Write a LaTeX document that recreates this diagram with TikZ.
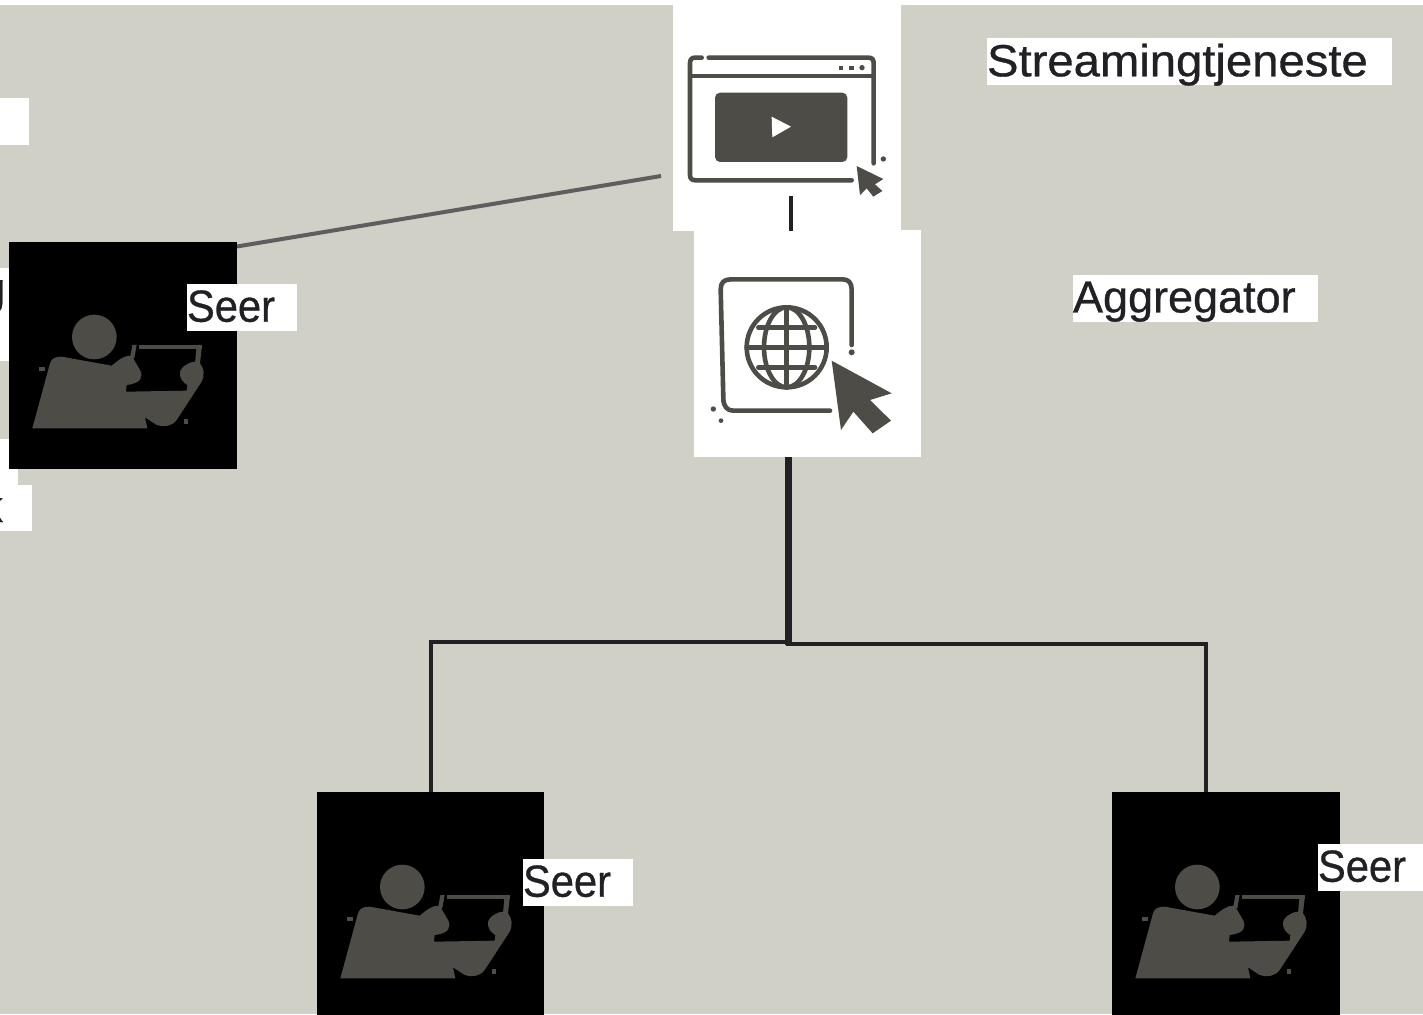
\documentclass[tikz,border=0pt]{standalone}
\usepackage{fontspec}
\setmainfont{Liberation Sans}
\newfontfamily\labelfont[FakeBold=0.7]{Liberation Sans}
\definecolor{bgc}{HTML}{D0D0C7}
\definecolor{ink}{HTML}{202025}
\definecolor{icon}{HTML}{4D4C47}
\definecolor{link}{HTML}{5E5E5E}
\newcommand{\nodesc}[1]{\raisebox{1.5pt}[\height][0pt]{#1}}
\tikzset{
  whitepanel/.style={fill=white,draw=none,inner sep=0pt,outer sep=0pt,anchor=north west,minimum width=#1,minimum height=227pt},
  blackbox/.style={fill=black,draw=none,inner sep=0pt,outer sep=0pt,anchor=north west,minimum width=228pt,minimum height=227pt},
  labelbox/.style={fill=white,draw=none,inner sep=0pt,outer sep=0pt,anchor=north west,text=ink,font=\labelfont\fontsize{45pt}{50pt}\selectfont,text width=#1,minimum height=47pt,align=left},
  patch/.style={fill=white,draw=none},
  fragment/.style={inner sep=0pt,anchor=base east,text=ink,font=\labelfont\fontsize{45pt}{50pt}\selectfont},
  wire/.style={draw=ink,line width=4pt},
  trunk/.style={draw=ink,line width=7pt},
  paleline/.style={draw=link,line width=4pt},
  iconline/.style={draw=icon,line width=4.6pt,line join=round,line cap=round},
  iconfill/.style={fill=icon,draw=none},
  pics/viewer/.style={code={
    \begin{scope}[shift={(-9,-162)},x=0.33333pt,y=-0.33333pt]
      \fill[iconfill] (283,771) circle (67);
      \fill[iconfill] (97,1045) -- (150,850) .. controls (155,835) and (165,830) .. (185,830) -- (335,857)
        .. controls (355,840) and (375,825) .. (395,827) -- (420,870) .. controls (430,890) and (425,910) .. (380,915)
        -- (378,935) -- (560,932) -- (562,915) .. controls (535,900) and (535,870) .. (550,860)
        .. controls (570,845) and (590,840) .. (600,850) .. controls (612,865) and (615,885) .. (605,905)
        -- (530,1020) .. controls (515,1040) and (490,1042) .. (470,1035) -- (435,1012) -- (442,1045) -- cycle;
      \fill[iconfill] (418,795) rectangle (606,806);
      \fill[iconfill] (397,795) -- (410,795) -- (403,835) -- (390,835) -- cycle;
      \fill[iconfill] (590,795) -- (606,795) -- (600,850) -- (585,850) -- cycle;
      \fill[iconfill] (116,862) rectangle (134,874);
      \fill[iconfill] (552,1018) rectangle (565,1031);
    \end{scope}
  }}
}
\begin{document}
\begin{tikzpicture}[x=1pt,y=-1pt]
\useasboundingbox (0,0) rectangle (1423,1014);
\clip (0,0) rectangle (1423,1014);
\fill[white] (0,0) rectangle (1423,1014);
\fill[bgc] (0,5) rectangle (1423,1014);

% remnants at the left edge
\fill[patch] (0,98) rectangle (29,145);
\fill[patch] (0,268) rectangle (12,361);
\fill[patch] (0,439) rectangle (18,490);
\fill[patch] (0,485) rectangle (32,531);
\node[fragment] (fragG) at (5.5,304) {g};
\node[fragment] (fragK) at (3,522) {k};

% panels
\node[whitepanel=228pt,minimum height=231pt] (browser) at (673,0) {};
\node[whitepanel=227pt] (globe) at (694,230) {};

% connectors
\coordinate (seerPort) at (237,246.5);
\coordinate (lineEnd) at (661,176);
\coordinate (stubTop) at (791,195.5);
\coordinate (jLeft) at (788.7,642);
\coordinate (jRight) at (786,643.5);
\coordinate (jBase) at (788.7,645);
\coordinate (rightDrop) at (1205.5,792);
\draw[paleline] (seerPort) -- (lineEnd);
\draw[wire] (stubTop) -- (browser.south -| stubTop);

\node[blackbox] (seerA) at (9,242) {};
\node[blackbox,minimum width=227pt] (seerB) at (317,792) {};
\node[blackbox] (seerC) at (1112,792) {};

\draw[wire] (jLeft) -| (seerB.north);
\draw[wire] (jRight) -| (rightDrop);
\draw[trunk] (globe.south -| jBase) -- (jBase);

% viewers
\pic at (seerA.north west) {viewer};
\pic at (seerB.north west) {viewer};
\pic at (seerC.north west) {viewer};

% browser icon
\begin{scope}[shift={(670,0)},x=0.33333pt,y=-0.33333pt]
  \draw[iconline] (95,173) -- (75,173) .. controls (65,173) and (60,178) .. (60,190) -- (60,525)
     .. controls (60,536) and (65,541) .. (78,541) -- (545,541);
  \draw[iconline] (116,173) -- (595,173) .. controls (606,173) and (611,178) .. (611,190) -- (611,490);
  \draw[iconline] (62,228) -- (608,228);
  \fill[iconfill] (506,197) rectangle (520,211);
  \fill[iconfill] (538,197) rectangle (552,211);
  \fill[iconfill] (576,203) circle (8);
  \fill[iconfill,rounded corners=15*0.33333pt] (135,278) rectangle (532,486);
  \fill[white] (305,350) -- (363,380) -- (307,412) -- cycle;
  \fill[iconfill] (640,477) circle (8);
  \fill[iconfill] (560,498) -- (640,537) -- (615,553) -- (637,573) -- (610,590) -- (590,565) -- (570,585) -- cycle;
\end{scope}

% globe icon
\begin{scope}[shift={(690,230)},x=0.33333pt,y=-0.33333pt]
  \draw[iconline] (485,345) -- (485,178) .. controls (485,158) and (475,148) .. (458,148) -- (122,148)
     .. controls (102,148) and (92,158) .. (92,178) -- (100,505) .. controls (100,530) and (112,542) .. (130,542) -- (420,542);
  \fill[iconfill] (485,367) circle (9);
  \draw[iconline] (290,352) ellipse [x radius=120,y radius=120];
  \draw[iconline] (290,352) ellipse [x radius=68,y radius=120];
  \draw[iconline] (290,232) -- (290,472);
  \draw[iconline] (170,352) -- (410,352);
  \draw[iconline] (205,293) -- (375,293);
  \draw[iconline] (205,412) -- (375,412);
  \fill[iconfill] (425,392) -- (605,490) -- (540,510) -- (603,572) -- (548,610) -- (490,545) -- (453,600) -- cycle;
  \fill[iconfill] (70,537) circle (8);
  \fill[iconfill] (93,572) circle (7);
\end{scope}

% labels
\node[labelbox=405pt] (lblStream) at (987,38) {\nodesc{\scalebox{1.05}[1]{Streamingtjeneste}}};
\node[labelbox=245pt] (lblAgg) at (1073,275) {\nodesc{Aggregator}};
\node[labelbox=110pt] (lblA) at (187,284) {\nodesc{\scalebox{0.926}[1]{Seer}}};
\node[labelbox=110pt] (lblB) at (523,859) {\nodesc{\scalebox{0.926}[1]{Seer}}};
\node[labelbox=105pt] (lblC) at (1318,844) {\nodesc{\scalebox{0.926}[1]{Seer}}};
\end{tikzpicture}
\end{document}
